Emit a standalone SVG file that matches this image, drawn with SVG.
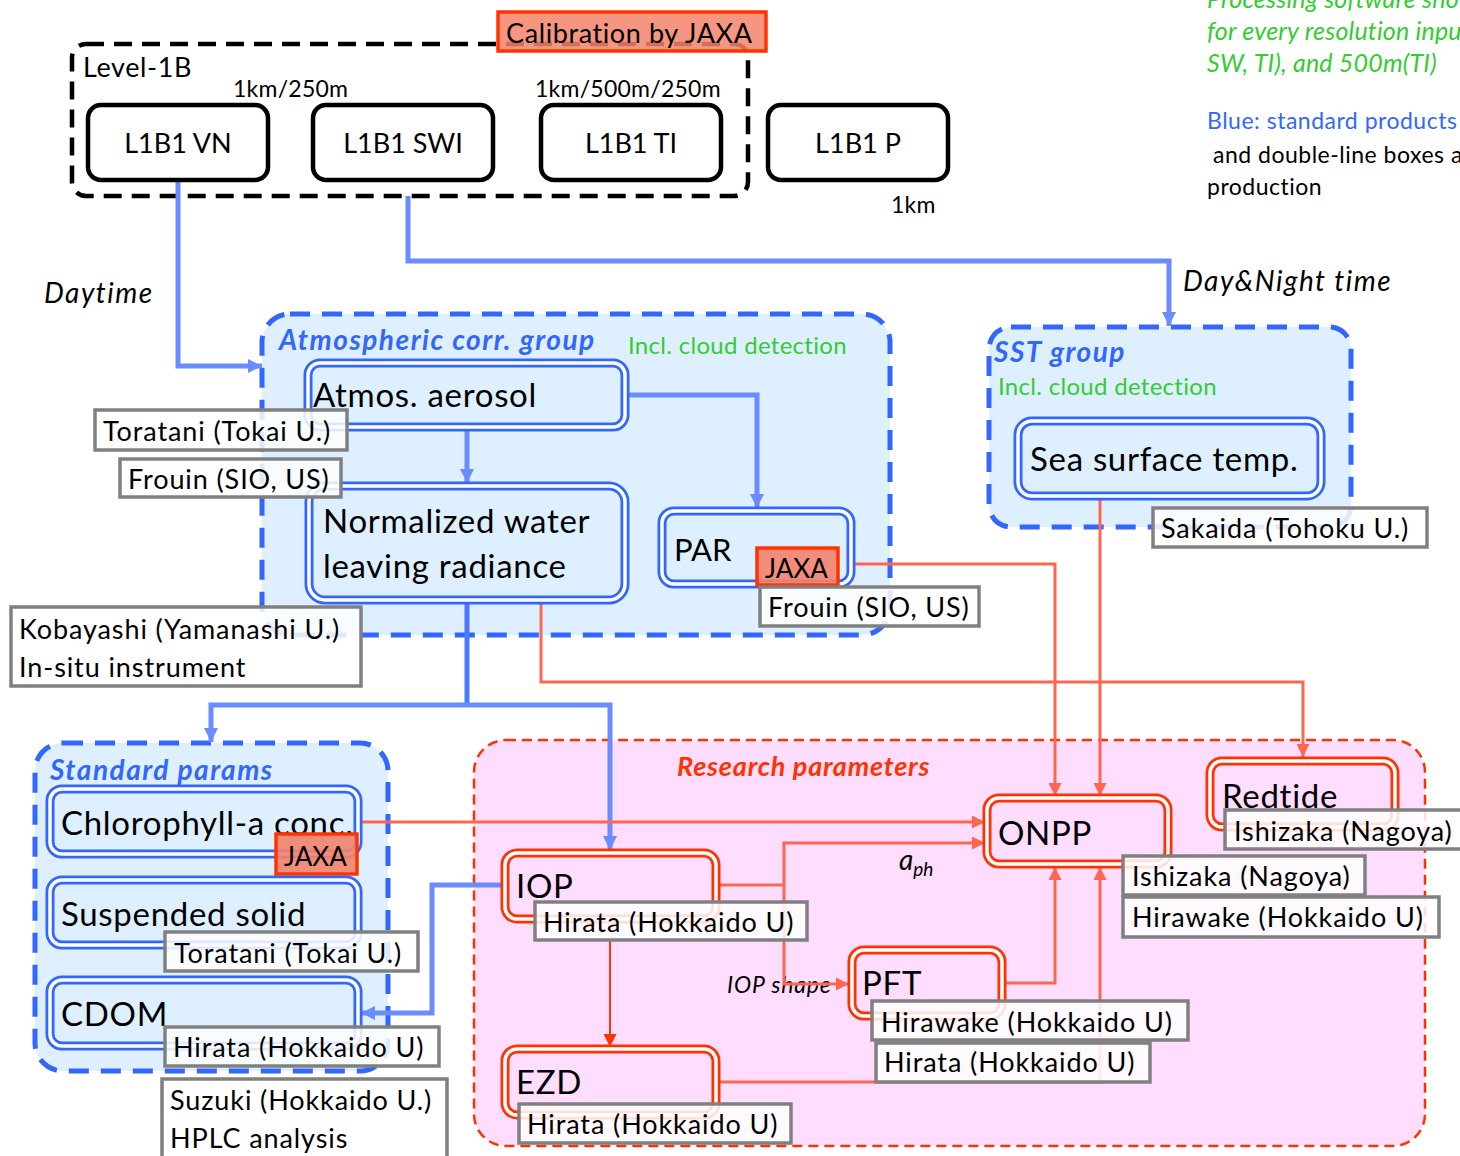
<svg xmlns="http://www.w3.org/2000/svg" width="1460" height="1156" viewBox="0 0 1460 1156">
<style>
text{font-family:Lato,"Open Sans","Liberation Sans",sans-serif;fill:#000}
.t26{font-size:27px;letter-spacing:0.9px}
.t27{font-size:27px}
.ja{font-size:26px}
.t22{font-size:23px;letter-spacing:0.25px}
.t32{font-size:33px;letter-spacing:0.7px}
.it{font-style:italic}
.big-it{font-size:28px;font-style:italic;letter-spacing:1.5px}
.grpB{fill:#def0ff;stroke:#3366ff;stroke-width:5;stroke-dasharray:20 12}
.grpR{fill:#ffddff;stroke:#ff3300;stroke-width:2.5;stroke-dasharray:10 6}
.l1{fill:#fff;stroke:#000;stroke-width:4.5}
.dbB{fill:#def0ff;stroke:#3366ff;stroke-width:9}
.dbR{fill:#ffddff;stroke:#ff3300;stroke-width:9}
.gap{fill:none;stroke:#fff;stroke-width:3.5}
.lab{fill:#fff;fill-opacity:0.85;stroke:#808080;stroke-width:3.5}
.jaxa{fill:#f4826a;fill-opacity:0.9;stroke:#ff3300;stroke-width:3.5}
.cb{fill:none;stroke:#6a8cff;stroke-width:5}
.cbd{fill:none;stroke:#4a78ff;stroke-width:5}
.cr{fill:none;stroke:#ff6650;stroke-width:3}
.crb{fill:none;stroke:#ff3300;stroke-width:2}
.ttl{font-size:28px;font-weight:bold;font-style:italic;letter-spacing:1.5px;fill:#3366ff}
.grn{fill:#33cc33}
.incl{font-size:24px;letter-spacing:0.3px}
.note{font-size:25px;font-style:italic;letter-spacing:0.2px}
.note2{font-size:23px;letter-spacing:0.5px}
</style>
<defs>
<marker id="ab" viewBox="0 0 10 10" refX="10" refY="5" markerWidth="14" markerHeight="16" markerUnits="userSpaceOnUse" orient="auto"><path d="M0,0 L10,5 L0,10 z" fill="#6a8cff"/></marker>
<marker id="ar" viewBox="0 0 10 10" refX="10" refY="5" markerWidth="13" markerHeight="13" markerUnits="userSpaceOnUse" orient="auto"><path d="M0,0 L10,5 L0,10 z" fill="#ff6650"/></marker>
<marker id="arb" viewBox="0 0 10 10" refX="10" refY="5" markerWidth="13" markerHeight="13" markerUnits="userSpaceOnUse" orient="auto"><path d="M0,0 L10,5 L0,10 z" fill="#ff3300"/></marker>
</defs>

<!-- top-right notes -->
<g id="notes">
<text x="1207" y="8" class="note grn">Processing software sho</text>
<text x="1207" y="40" class="note grn">for every resolution inpu</text>
<text x="1207" y="72" class="note grn">SW, TI), and 500m(TI)</text>
<text x="1207" y="129" class="note2" style="fill:#3366ff">Blue: standard products</text>
<text x="1213" y="163" class="note2"> and double-line boxes a</text>
<text x="1207" y="195" class="note2">production</text>
</g>

<!-- containers -->
<g id="level1b">
<rect x="72" y="44" width="676" height="152" rx="14" fill="none" stroke="#000" stroke-width="4.5" stroke-dasharray="18 10"/>
<text x="83" y="77" class="t27" letter-spacing="0.6">Level-1B</text>
<text x="233" y="97" class="t22">1km/250m</text>
<text x="535" y="97" class="t22">1km/500m/250m</text>
</g>
<g id="calibration">
<rect x="498" y="12" width="268" height="39" class="jaxa" style="fill-opacity:0.85"/>
<text x="506" y="43" class="t27" letter-spacing="0.6">Calibration by JAXA</text>
</g>
<g id="atm-group">
<rect x="262" y="314" width="628" height="321" rx="28" class="grpB"/>
<text x="279" y="350" class="ttl">Atmospheric corr. group</text>
<text x="628" y="354" class="grn incl">Incl. cloud detection</text>
</g>
<g id="sst-group">
<rect x="989" y="327" width="362" height="200" rx="22" class="grpB"/>
<text x="994" y="362" class="ttl">SST group</text>
<text x="998" y="395" class="grn incl">Incl. cloud detection</text>
</g>
<g id="std-group">
<rect x="35" y="743" width="353" height="328" rx="28" class="grpB"/>
<text x="50" y="780" class="ttl">Standard params</text>
</g>
<g id="res-group">
<rect x="474" y="740" width="951" height="406" rx="32" class="grpR"/>
<text x="677" y="776" class="ttl" style="fill:#ff3300;font-size:27px;letter-spacing:0.8px">Research parameters</text>
</g>

<text x="44" y="303" class="big-it">Daytime</text>
<text x="1183" y="291" class="big-it">Day&amp;Night time</text>
<text x="899" y="870" class="it" font-size="28">a<tspan font-size="19" dy="6">ph</tspan></text>
<text x="727" y="993" class="it" font-size="23" letter-spacing="0.8">IOP shape</text>

<!-- connectors -->
<g id="connectors">
<path d="M178,180 V366 H262" class="cb" marker-end="url(#ab)"/>
<path d="M408,196 V261 H1169 V326" class="cb" marker-end="url(#ab)"/>
<path d="M467,430 V483" class="cb" stroke-width="4" marker-end="url(#ab)"/>
<path d="M628,395 H757 V508" class="cb" marker-end="url(#ab)"/>
<path d="M467,603 V705" class="cbd"/>
<path d="M467,705 H211 V742" class="cb" marker-end="url(#ab)"/>
<path d="M467,705 H610 V850" class="cb" marker-end="url(#ab)"/>
<path d="M503,885 H432 V1013 H361" class="cb" marker-end="url(#ab)"/>
<path d="M541,603 V682 H1303 V757" class="cr" marker-end="url(#ar)"/>
<path d="M854,564 H1055 V796" class="cr" marker-end="url(#ar)"/>
<path d="M1100,497 V796" class="cr" marker-end="url(#ar)"/>
<path d="M361,822 H985" class="cr" marker-end="url(#ar)"/>
<path d="M719,885 H784 V843 H985" class="cr" stroke-width="4" marker-end="url(#ar)"/>
<path d="M784,885 V984 H849" class="cr" stroke-width="4" marker-end="url(#ar)"/>
<path d="M610,940 V1047" class="crb" marker-end="url(#arb)"/>
<path d="M719,1082 H1100 V867" class="cr" marker-end="url(#ar)"/>
<path d="M1005,983 H1055 V867" class="cr" stroke-width="4" marker-end="url(#ar)"/>
</g>

<!-- level-1B nodes -->
<g id="l1b1-vn"><rect x="88" y="105" width="180" height="75" rx="13" class="l1"/><text x="178" y="153" class="t27" text-anchor="middle">L1B1 VN</text></g>
<g id="l1b1-swi"><rect x="313" y="105" width="180" height="75" rx="13" class="l1"/><text x="403" y="153" class="t27" text-anchor="middle">L1B1 SWI</text></g>
<g id="l1b1-ti"><rect x="541" y="105" width="180" height="75" rx="13" class="l1"/><text x="631" y="153" class="t27" text-anchor="middle">L1B1 TI</text></g>
<g id="l1b1-p"><rect x="768" y="105" width="180" height="75" rx="13" class="l1"/><text x="858" y="153" class="t27" text-anchor="middle">L1B1 P</text></g>
<text x="891" y="213" class="t22">1km</text>

<!-- blue double nodes -->
<g id="aerosol"><rect x="308" y="363" width="317" height="64" rx="12" class="dbB"/><rect x="308" y="363" width="317" height="64" rx="12" class="gap"/><text x="313" y="407" class="t32">Atmos. aerosol</text></g>
<g id="nwlr"><rect x="309" y="486" width="316" height="114" rx="16" class="dbB"/><rect x="309" y="486" width="316" height="114" rx="16" class="gap"/><text x="323" y="533" class="t32">Normalized water</text><text x="323" y="578" class="t32">leaving radiance</text></g>
<g id="par"><rect x="662" y="511" width="189" height="73" rx="12" class="dbB"/><rect x="662" y="511" width="189" height="73" rx="12" class="gap"/><text x="674" y="561" font-size="31">PAR</text>
<rect x="757" y="548" width="81" height="37" class="jaxa"/><text x="765" y="578" class="ja">JAXA</text></g>
<g id="sst"><rect x="1018" y="421" width="303" height="75" rx="14" class="dbB"/><rect x="1018" y="421" width="303" height="75" rx="14" class="gap"/><text x="1030" y="471" class="t32">Sea surface temp.</text></g>
<g id="chl"><rect x="50" y="789" width="308" height="65" rx="12" class="dbB"/><rect x="50" y="789" width="308" height="65" rx="12" class="gap"/><text x="61" y="835" class="t32">Chlorophyll-a conc.</text>
<rect x="276" y="834" width="81" height="40" class="jaxa"/><text x="284" y="866" class="ja">JAXA</text></g>
<g id="ss"><rect x="50" y="880" width="308" height="65" rx="12" class="dbB"/><rect x="50" y="880" width="308" height="65" rx="12" class="gap"/><text x="61" y="926" class="t32">Suspended solid</text></g>
<g id="cdom"><rect x="50" y="980" width="308" height="66" rx="12" class="dbB"/><rect x="50" y="980" width="308" height="66" rx="12" class="gap"/><text x="61" y="1026" class="t32">CDOM</text></g>

<!-- red double nodes -->
<g id="iop"><rect x="505" y="853" width="211" height="66" rx="12" class="dbR"/><rect x="505" y="853" width="211" height="66" rx="12" class="gap"/><text x="516" y="898" class="t32">IOP</text></g>
<g id="ezd"><rect x="505" y="1049" width="211" height="66" rx="12" class="dbR"/><rect x="505" y="1049" width="211" height="66" rx="12" class="gap"/><text x="516" y="1094" class="t32">EZD</text></g>
<g id="pft"><rect x="852" y="950" width="150" height="66" rx="12" class="dbR"/><rect x="852" y="950" width="150" height="66" rx="12" class="gap"/><text x="862" y="995" class="t32">PFT</text></g>
<g id="onpp"><rect x="987" y="798" width="181" height="66" rx="12" class="dbR"/><rect x="987" y="798" width="181" height="66" rx="12" class="gap"/><text x="998" y="845" class="t32">ONPP</text></g>
<g id="redtide"><rect x="1210" y="761" width="185" height="66" rx="12" class="dbR"/><rect x="1210" y="761" width="185" height="66" rx="12" class="gap"/><text x="1222" y="808" class="t32">Redtide</text></g>

<!-- researcher labels -->
<g id="labels">
<g id="lab-toratani1"><rect x="95" y="410" width="252" height="40" class="lab"/><text x="103" y="441" class="t26">Toratani (Tokai U.)</text></g>
<g id="lab-frouin1"><rect x="120" y="459" width="221" height="38" class="lab"/><text x="128" y="489" class="t26">Frouin (SIO, US)</text></g>
<g id="lab-kobayashi"><rect x="11" y="607" width="350" height="79" class="lab"/><text x="19" y="639" class="t26">Kobayashi (Yamanashi U.)</text><text x="19" y="677" class="t26">In-situ instrument</text></g>
<g id="lab-frouin2"><rect x="760" y="587" width="219" height="39" class="lab"/><text x="768" y="617" class="t26">Frouin (SIO, US)</text></g>
<g id="lab-sakaida"><rect x="1153" y="508" width="274" height="39" class="lab"/><text x="1161" y="538" class="t26">Sakaida (Tohoku U.)</text></g>
<g id="lab-toratani2"><rect x="165" y="932" width="253" height="39" class="lab"/><text x="174" y="963" class="t26">Toratani (Tokai U.)</text></g>
<g id="lab-hirata-cdom"><rect x="165" y="1027" width="274" height="39" class="lab"/><text x="173" y="1057" class="t26">Hirata (Hokkaido U)</text></g>
<g id="lab-suzuki"><rect x="162" y="1079" width="285" height="85" class="lab"/><text x="170" y="1110" class="t26">Suzuki (Hokkaido U.)</text><text x="170" y="1148" class="t26">HPLC analysis</text></g>
<g id="lab-hirata-iop"><rect x="535" y="902" width="272" height="38" class="lab"/><text x="543" y="932" class="t26">Hirata (Hokkaido U)</text></g>
<g id="lab-hirata-ezd"><rect x="519" y="1104" width="272" height="39" class="lab"/><text x="527" y="1134" class="t26">Hirata (Hokkaido U)</text></g>
<g id="lab-hirawake-pft"><rect x="872" y="1001" width="316" height="39" class="lab"/><text x="881" y="1032" class="t26">Hirawake (Hokkaido U)</text></g>
<g id="lab-hirata-pft"><rect x="876" y="1043" width="274" height="39" class="lab"/><text x="884" y="1072" class="t26">Hirata (Hokkaido U)</text></g>
<g id="lab-ishizaka-onpp"><rect x="1123" y="856" width="242" height="39" class="lab"/><text x="1132" y="886" class="t26">Ishizaka (Nagoya)</text></g>
<g id="lab-hirawake-onpp"><rect x="1123" y="897" width="316" height="40" class="lab"/><text x="1132" y="927" class="t26">Hirawake (Hokkaido U)</text></g>
<g id="lab-ishizaka-red"><rect x="1225" y="810" width="240" height="39" class="lab"/><text x="1234" y="841" class="t26">Ishizaka (Nagoya)</text></g>
</g>
</svg>
